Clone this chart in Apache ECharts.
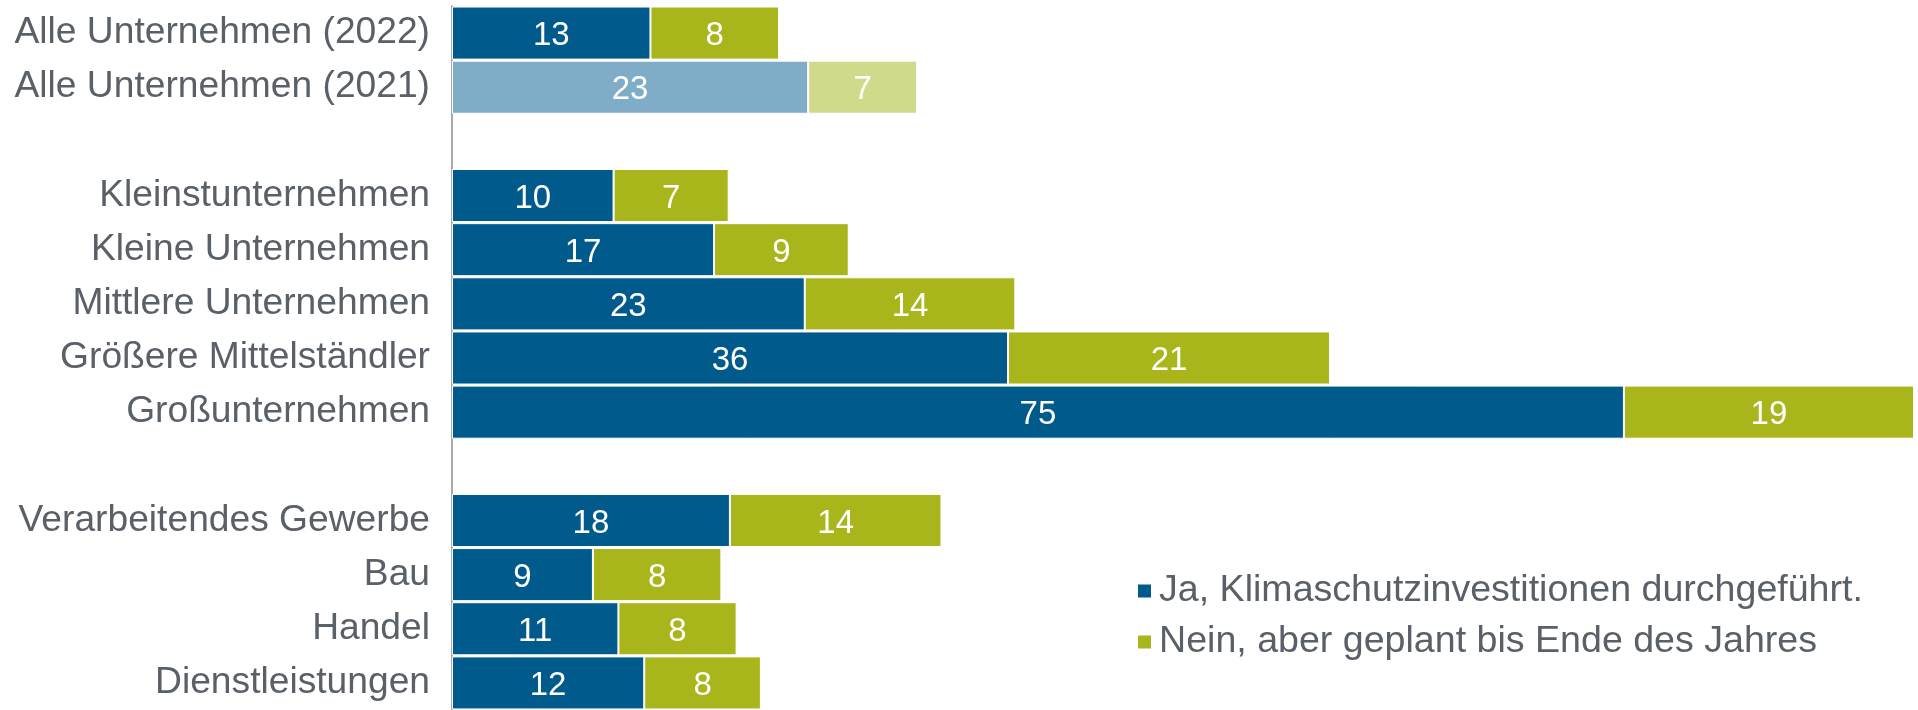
<!DOCTYPE html>
<html>
<head>
<meta charset="utf-8">
<script src="https://cdn.jsdelivr.net/npm/echarts@6/dist/echarts.min.js"></script>
<style>
    html, body {margin: 0; padding: 0; background: #fff;}
    #chart {width: 1918px; height: 710px;}
</style>
</head>
<body>
<div id="chart"></div>
<script>
    // Kategorien (leere Einträge = Abstandszeilen)
    const categories = [
        'Alle Unternehmen (2022)', 'Alle Unternehmen (2021)', '',
        'Kleinstunternehmen', 'Kleine Unternehmen', 'Mittlere Unternehmen',
        'Größere Mittelständler', 'Großunternehmen', '',
        'Verarbeitendes Gewerbe', 'Bau', 'Handel', 'Dienstleistungen'
    ];
    const seriesNames = ['Ja, Klimaschutzinvestitionen durchgeführt.', 'Nein, aber geplant bis Ende des Jahres'];
    // Werte in Prozent, aus den Balkenlängen geschätzt (Beschriftung gerundet)
    const jaValues = [12.76, 22.9, null, 10.39, 16.85, 22.68, 35.75, 75.35, null, 17.87, 9.06, 10.7, 12.36];
    const neinValues = [8.27, 7.0, null, 7.4, 8.66, 13.54, 20.7, 18.65, null, 13.6, 8.26, 7.6, 7.5];
    const vorjahrIndex = [1]; // Vorjahreszeile in hellen Farben

    const colors = {
        ja: '#005a8c', nein: '#a8b51b',
        jaLight: '#7facc7', neinLight: '#d1da8b',
        text: '#5a6068'
    };
    const font = 'Liberation Sans, Arial, sans-serif';

    function toData(values, light) {
        return values.map((v, i) => {
            if (v == null) return '-';
            if (vorjahrIndex.includes(i)) return {value: v, itemStyle: {color: light}};
            return v;
        });
    }

    const chart = echarts.init(document.getElementById('chart'));
    const barLabel = {
        show: true, position: 'inside', color: '#fff', fontSize: 33, fontFamily: font,
        offset: [0, 3],
        formatter: p => Math.round(p.value)
    };
    chart.setOption({
        animation: false,
        grid: {left: 452, right: 4, top: 6, bottom: -4},
        legend: {
            orient: 'vertical', left: 1131, top: 566, itemGap: 11,
            itemWidth: 15, itemHeight: 15, icon: 'rect',
            textStyle: {color: colors.text, fontSize: 37.6, fontFamily: font, lineHeight: 40, padding: [0, 0, 0, 2]},
            data: seriesNames
        },
        xAxis: {type: 'value', min: 0, max: 94, show: false},
        yAxis: {
            type: 'category', inverse: true, data: categories,
            axisLine: {show: true, lineStyle: {color: '#8c8c8c', width: 1.5}},
            axisTick: {show: false},
            axisLabel: {color: colors.text, fontSize: 37.2, fontFamily: font, margin: 22, padding: [7, 0, 0, 0]}
        },
        series: [{
            name: seriesNames[0], type: 'bar', stack: 'a', barCategoryGap: '2%',
            itemStyle: {color: colors.ja, borderColor: '#fff', borderWidth: 1},
            label: barLabel,
            data: toData(jaValues, colors.jaLight)
        }, {
            name: seriesNames[1], type: 'bar', stack: 'a', barCategoryGap: '2%',
            itemStyle: {color: colors.nein, borderColor: '#fff', borderWidth: 1},
            label: barLabel,
            data: toData(neinValues, colors.neinLight)
        }]
    });
</script>
</body>
</html>
